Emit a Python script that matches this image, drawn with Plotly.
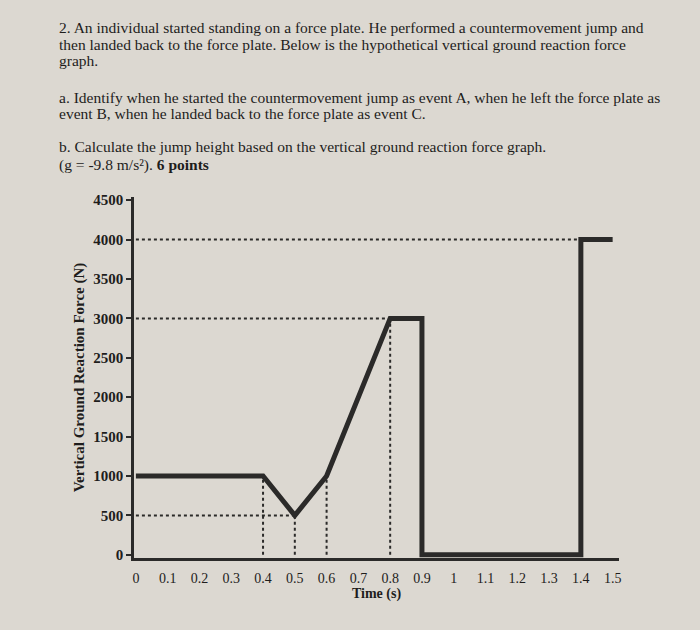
import plotly.graph_objects as go

# force curve
time_s = [0, 0.4, 0.5, 0.6, 0.8, 0.9, 0.9, 1.4, 1.4, 1.5]
force_n = [1000, 1000, 500, 1000, 3000, 3000, 0, 0, 4000, 4000]

# dotted guide lines
h_levels = [4000, 3000, 500]
h_ends = [1.4, 0.8, 0.5]
v_times = [0.4, 0.5, 0.6, 0.8]
v_tops = [1000, 500, 1000, 3000]

x_ticks = [0, 0.1, 0.2, 0.3, 0.4, 0.5, 0.6, 0.7, 0.8, 0.9, 1, 1.1, 1.2, 1.3, 1.4, 1.5]
x_labels = ["0", "0.1", "0.2", "0.3", "0.4", "0.5", "0.6", "0.7", "0.8", "0.9", "1", "1.1", "1.2", "1.3", "1.4", "1.5"]
y_ticks = [0, 500, 1000, 1500, 2000, 2500, 3000, 3500, 4000, 4500]

question = [
    "2. An individual started standing on a force plate. He performed a countermovement jump and",
    "then landed back to the force plate. Below is the hypothetical vertical ground reaction force",
    "graph.",
    "a. Identify when he started the countermovement jump as event A, when he left the force plate as",
    "event B, when he landed back to the force plate as event C.",
    "b. Calculate the jump height based on the vertical ground reaction force graph.",
    "(g = -9.8 m/s²). <b>6 points</b>",
]
question_px = [27, 44, 60, 97, 113, 146, 165]

W, H = 700, 630
T, B, L, R = 197, 72, 134, 81
INK = "#2b2a29"
TXT = "#1e1d1c"
BG = "#dcd8d1"
SERIF = "Liberation Serif, Times New Roman, serif"


def paper_y(py):
    return (H - B - py) / (H - T - B)


fig = go.Figure()

for lvl, end in zip(h_levels, h_ends):
    fig.add_trace(go.Scatter(x=[0, end], y=[lvl, lvl], mode="lines",
                             line=dict(color=INK, width=2, dash="dot"),
                             hoverinfo="skip", showlegend=False))
for t, top in zip(v_times, v_tops):
    fig.add_trace(go.Scatter(x=[t, t], y=[0, top], mode="lines",
                             line=dict(color=INK, width=2, dash="dot"),
                             hoverinfo="skip", showlegend=False))

fig.add_trace(go.Scatter(
    x=time_s, y=force_n, mode="lines",
    line=dict(color=INK, width=5),
    showlegend=False, cliponaxis=False,
))

annotations = []
for txt, py in zip(question, question_px):
    annotations.append(dict(
        text=txt, xref="paper", yref="paper",
        x=(57 - L) / (W - L - R), y=paper_y(py),
        xanchor="left", yanchor="middle", showarrow=False,
        font=dict(family=SERIF, size=15.5, color=TXT),
    ))

fig.update_layout(
    width=W, height=H,
    margin=dict(l=L, r=R, t=T, b=B),
    paper_bgcolor=BG, plot_bgcolor=BG,
    annotations=annotations,
    xaxis=dict(
        range=[-0.006, 1.52], tickvals=x_ticks, ticktext=x_labels,
        showgrid=False, zeroline=False, showline=True, linecolor=INK, linewidth=2.5,
        ticks="", ticklabelstandoff=5,
        tickfont=dict(family=SERIF, size=14, color=TXT),
        title=dict(text="<b>Time (s)</b>", standoff=4,
                   font=dict(family=SERIF, size=14, color=TXT)),
    ),
    yaxis=dict(
        range=[-40, 4540], tickvals=y_ticks,
        showgrid=False, zeroline=False, showline=True, linecolor=INK, linewidth=2.5,
        ticks="outside", ticklen=5, tickwidth=2, tickcolor=INK,
        tickfont=dict(family=SERIF, size=15, color=TXT, weight="bold"),
        title=dict(text="<b>Vertical Ground Reaction Force (N)</b>", standoff=6,
                   font=dict(family=SERIF, size=15, color=TXT)),
    ),
)

fig.write_html("out.html", config={"displayModeBar": False},
               post_script="document.body.style.margin='0';")
